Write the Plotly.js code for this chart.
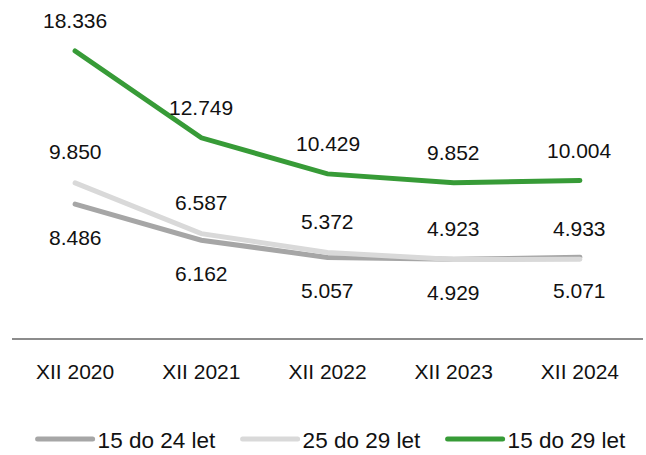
<!DOCTYPE html>
<html><head><meta charset="utf-8">
<script src="https://cdn.plot.ly/plotly-3.0.1.min.js"></script>
<style>html,body{margin:0;padding:0;background:#fff}#c{width:646px;height:455px}
.js-line{stroke-linecap:round}</style>
</head><body><div id="c"></div>
<script>
const categories = ["XII 2020","XII 2021","XII 2022","XII 2023","XII 2024"];
const s15to24 = [8.486, 6.162, 5.057, 4.929, 5.071];
const s25to29 = [9.850, 6.587, 5.372, 4.923, 4.933];
const s15to29 = [18.336, 12.749, 10.429, 9.852, 10.004];
const names = ["15 do 24 let","25 do 29 let","15 do 29 let"];
const colors = ["#a6a6a6","#d9d9d9","#379b37"];

const fmt = v => v.toFixed(3);
const family = "Liberation Sans, Arial, sans-serif";
const labelFont = {family:family, size:21, color:"#111"};

const traces = [s15to24, s25to29, s15to29].map((s,i)=>({
  type:"scatter", mode:"lines", x:categories, y:s, name:names[i],
  line:{color:colors[i], width:5}, hoverinfo:"skip"
}));

const annotations = [];
const addLabels = (s, shift) => s.forEach((v,i)=>annotations.push({
  x:categories[i], y:v, xref:"x", yref:"y", text:fmt(v), showarrow:false,
  yshift:shift, font:labelFont
}));
addLabels(s15to29, 30);
addLabels(s25to29, 31);
addLabels(s15to24, -33);

const layout = {
  width:646, height:455,
  margin:{l:12, r:3, t:29, b:117, autoexpand:false},
  paper_bgcolor:"#fff", plot_bgcolor:"#fff",
  showlegend:true,
  legend:{orientation:"h", x:0.52, xanchor:"center", y:-0.328, yanchor:"middle",
    font:{family:family, size:22.5, color:"#111"}, itemwidth:55,
    entrywidth:135, traceorder:"normal"},
  xaxis:{type:"category", range:[-0.5,4.5], showgrid:false, zeroline:false,
    showline:true, linecolor:"#8c8c8c", linewidth:2, ticks:"",
    ticklabelstandoff:14, tickfont:{family:family, size:21, color:"#111"}, fixedrange:true},
  yaxis:{range:[-0.13,19.75], showgrid:false, zeroline:false, showline:false,
    showticklabels:false, ticks:"", fixedrange:true},
  annotations:annotations
};
Plotly.newPlot("c", traces, layout, {displayModeBar:false, staticPlot:true});
</script></body></html>
